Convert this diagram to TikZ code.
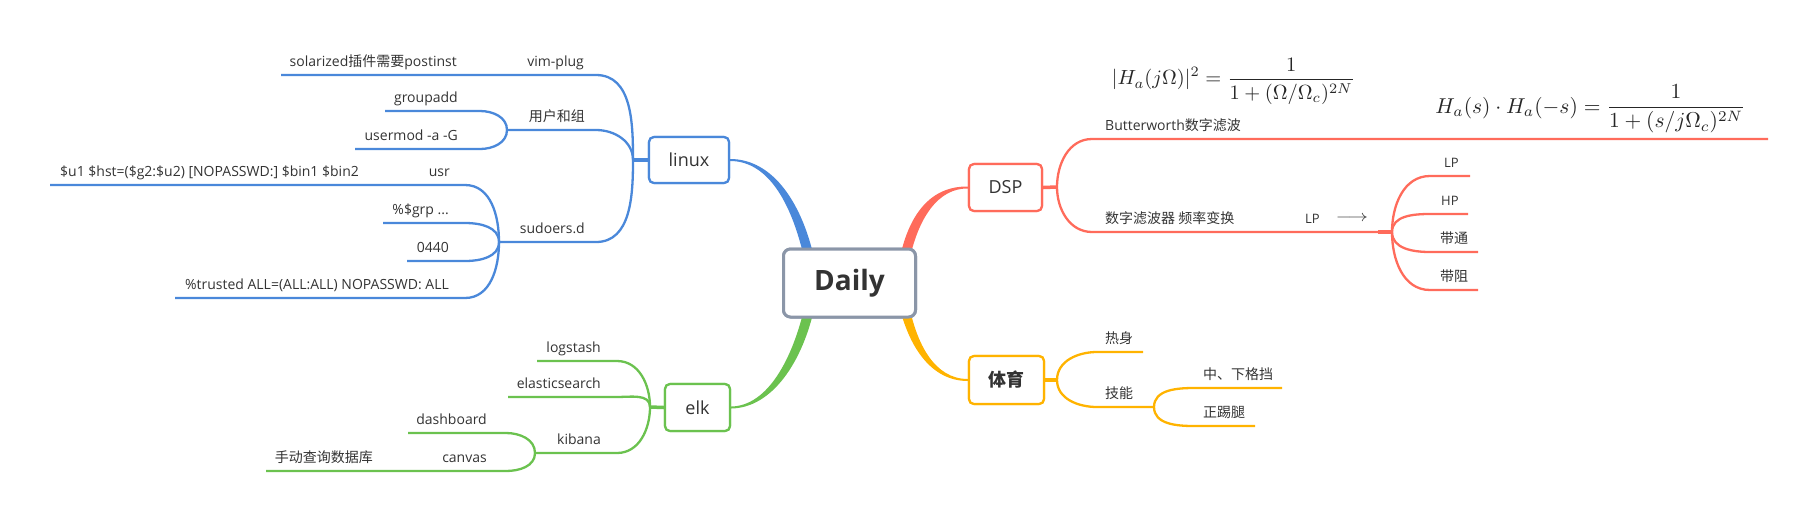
\documentclass[tikz,border=0pt]{standalone}
\usepackage[no-math]{fontspec}
\setmainfont{Open Sans}
\newfontfamily\cjk{Noto Sans CJK SC}
\usetikzlibrary{calc}
\definecolor{cblue}{RGB}{74,136,218}
\definecolor{cred}{RGB}{255,107,91}
\definecolor{cyel}{RGB}{255,179,0}
\definecolor{cgreen}{RGB}{107,194,79}
\definecolor{cgray}{RGB}{139,150,168}
\definecolor{textc}{RGB}{51,51,51}
\newcommand\zh[1]{{\cjk #1}}
\tikzset{
  txt/.style={font=\fontsize{14}{16}\selectfont, text=textc, inner sep=0pt},
  lbl/.style={txt, anchor=base east},
  rbl/.style={txt, anchor=base west},
  topic/.style={draw, fill=white, rounded corners=5pt, line width=2.2pt, inner sep=0pt,
    font=\fontsize{18}{20}\selectfont, text=textc},
  sub/.style={line width=2.3pt},
  stub/.style={line width=3.5pt},
  mathf/.style={inner sep=0pt, text=black!85},
}
\begin{document}
\begin{tikzpicture}[x=1pt,y=-1pt]
\useasboundingbox (0,0) rectangle (1818,523);

% ---------- topic boxes (positions) ----------
\path node[topic, draw=cgray, line width=3pt, rounded corners=7pt, minimum width=132pt, minimum height=68pt,
   font=\fontsize{28}{30}\selectfont\bfseries] (daily) at (849.5,283) {Daily};
\path node[topic, draw=cblue, minimum width=80pt, minimum height=46pt] (linux) at (689,160) {linux};
\path node[topic, draw=cgreen, minimum width=65pt, minimum height=47pt] (elk) at (697.5,407.5) {elk};
\path node[topic, draw=cred, minimum width=73pt, minimum height=47pt] (dsp) at (1005.5,187.5) {DSP};
\path node[topic, draw=cyel, minimum width=75pt, minimum height=48pt] (pe) at (1006.5,380) {\cjk\bfseries 体育};

% ---------- tapered main branches ----------
\fill[cblue] ($(linux.east)+(0,-1)$) .. controls (774,159) and (803,205) .. (815,262)
  -- (805,262) .. controls (793,207) and (770,161) .. ($(linux.east)+(0,1)$) -- cycle;
\fill[cred] ($(dsp.west)+(0,-1)$) .. controls (930,186) and (908,215) .. (899,262)
  -- (909,262) .. controls (918,218) and (938,188) .. ($(dsp.west)+(0,1)$) -- cycle;
\fill[cyel] ($(pe.west)+(0,-1)$) .. controls (935,379) and (917,345) .. (909,305)
  -- (899,305) .. controls (909,347) and (931,381) .. ($(pe.west)+(0,1)$) -- cycle;
\fill[cgreen] ($(elk.east)+(0,-1)$) .. controls (768,406) and (793,358) .. (805,305)
  -- (815,305) .. controls (803,362) and (772,408) .. ($(elk.east)+(0,1)$) -- cycle;

% redraw boxes on top
\path node[topic, draw=cgray, line width=3pt, rounded corners=7pt, minimum width=132pt, minimum height=68pt,
   font=\fontsize{28}{30}\selectfont\bfseries] (daily2) at (daily) {Daily};
\path node[topic, draw=cblue, minimum width=80pt, minimum height=46pt] (linux2) at (linux) {linux};
\path node[topic, draw=cgreen, minimum width=65pt, minimum height=47pt] (elk2) at (elk) {elk};
\path node[topic, draw=cred, minimum width=73pt, minimum height=47pt] (dsp2) at (dsp) {DSP};
\path node[topic, draw=cyel, minimum width=75pt, minimum height=48pt] (pe2) at (pe) {\cjk\bfseries 体育};

% ---------- linux subtree ----------
\coordinate (jl) at (633,160);
\coordinate (vimE) at (596,75);   \coordinate (vimW) at (281,75);
\coordinate (ugE) at (596,130);   \coordinate (ju) at (507,130);
\coordinate (suE) at (596,242);   \coordinate (js) at (499,242);
\coordinate (gaE) at (480,111);   \coordinate (gaW) at (385,111);
\coordinate (umE) at (480,149);   \coordinate (umW) at (355,149);
\coordinate (usrE) at (465,185);  \coordinate (usrW) at (50,185);
\coordinate (grpE) at (465,223);  \coordinate (grpW) at (383,223);
\coordinate (oE) at (465,261);    \coordinate (oW) at (407,261);
\coordinate (trE) at (465,298);   \coordinate (trW) at (175,298);
\begin{scope}[draw=cblue]
\draw[stub] (linux.west) -- (jl);
\draw[sub] (jl) to[out=90,in=0] (vimE) -- (vimW);
\draw[sub] (jl) to[out=90,in=0] (ugE) -- (ju);
\draw[sub] (jl) to[out=-90,in=0] (suE) -- (js);
\draw[sub] (ju) to[out=90,in=0] (gaE) -- (gaW);
\draw[sub] (ju) to[out=-90,in=0] (umE) -- (umW);
\draw[sub] (js) to[out=90,in=0] (usrE) -- (usrW);
\draw[sub] (js) to[out=90,in=0] (grpE) -- (grpW);
\draw[sub] (js) to[out=-90,in=0] (oE) -- (oW);
\draw[sub] (js) to[out=-90,in=0] (trE) -- (trW);
\end{scope}
\node[lbl] (tvim) at (584,66) {vim-plug};
\node[lbl] (tsol) at (457,66) {solarized\zh{插件需要}postinst};
\node[lbl] (tug) at (585,121) {\zh{用户和组}};
\node[lbl] (tga) at (458,102) {groupadd};
\node[lbl] (tum) at (458,140) {usermod -a -G};
\node[lbl] (tsu) at (585,233) {sudoers.d};
\node[lbl] (tusr) at (450,176) {usr};
\node[lbl] (tu1) at (359,176) {\$u1 \$hst=(\$g2:\$u2) [NOPASSWD:] \$bin1 \$bin2};
\node[lbl] (tgrp) at (449,214) {\%\$grp ...};
\node[lbl] (t0440) at (449,252) {0440};
\node[lbl] (ttr) at (449,289) {\%trusted ALL=(ALL:ALL) NOPASSWD: ALL};

% ---------- elk subtree ----------
\coordinate (je) at (650,407);
\coordinate (lsE) at (617,361);  \coordinate (lsW) at (537,361);
\coordinate (esE) at (617,397);  \coordinate (esW) at (508,397);
\coordinate (kbE) at (617,453);  \coordinate (jk) at (535,453);
\coordinate (dbE) at (506,433);  \coordinate (dbW) at (408,433);
\coordinate (cvE) at (506,471);  \coordinate (cvW) at (266,471);
\begin{scope}[draw=cgreen]
\draw[stub] (elk.west) -- (je);
\draw[sub] (je) to[out=90,in=0] (lsE) -- (lsW);
\draw[sub] (je) to[out=90,in=0] (esE) -- (esW);
\draw[sub] (je) to[out=-90,in=0] (kbE) -- (jk);
\draw[sub] (jk) to[out=90,in=0] (dbE) -- (dbW);
\draw[sub] (jk) to[out=-90,in=0] (cvE) -- (cvW);
\end{scope}
\node[lbl] (tls) at (601,352) {logstash};
\node[lbl] (tes) at (601,388) {elasticsearch};
\node[lbl] (tkb) at (601,444) {kibana};
\node[lbl] (tdb) at (487,424) {dashboard};
\node[lbl] (tcv) at (487,462) {canvas};
\node[lbl] (tdbq) at (373,462) {\zh{手动查询数据库}};

% ---------- DSP subtree ----------
\coordinate (jd) at (1057,187);
\coordinate (bwW) at (1092,139);  \coordinate (bwE) at (1768,139);
\coordinate (dfW) at (1092,232);  \coordinate (jf) at (1392,232);
\coordinate (jf0) at (1378,232);
\coordinate (lpW) at (1430,176);  \coordinate (lpE) at (1470,176);
\coordinate (hpW) at (1430,214);  \coordinate (hpE) at (1468,214);
\coordinate (btW) at (1430,252);  \coordinate (btE) at (1478,252);
\coordinate (bzW) at (1430,290);  \coordinate (bzE) at (1478,290);
\begin{scope}[draw=cred]
\draw[stub] (dsp.east) -- (jd);
\draw[sub] (jd) to[out=90,in=180] (bwW) -- (bwE);
\draw[sub] (jd) to[out=-90,in=180] (dfW) -- (jf);
\draw[line width=4pt] (jf0) -- (jf);
\draw[sub] (jf) to[out=90,in=180] (lpW) -- (lpE);
\draw[sub] (jf) to[out=90,in=180] (hpW) -- (hpE);
\draw[sub] (jf) to[out=-90,in=180] (btW) -- (btE);
\draw[sub] (jf) to[out=-90,in=180] (bzW) -- (bzE);
\end{scope}
\node[rbl] (tbw) at (1105,130) {Butterworth\zh{数字滤波}};
\node[mathf] (f1) at (1233.5,81) {\scalebox{2.05}{$\displaystyle |H_a(j\Omega)|^2=\frac{1}{1+(\Omega/\Omega_c)^{2N}}$}};
\node[mathf] (f2) at (1590.5,109) {\scalebox{2.15}{$\displaystyle H_a(s)\cdot H_a(-s)=\frac{1}{1+(s/j\Omega_c)^{2N}}$}};
\node[rbl] (tdf) at (1105,223) {\zh{数字滤波器 频率变换}};
\node[rbl, font=\fontsize{13}{15}\selectfont] (tlp0) at (1305,223) {LP};
\node[inner sep=0pt, text=textc] (tarr) at (1352,219) {\scalebox{2}[1.6]{$\longrightarrow$}};
\node[rbl, font=\fontsize{13}{15}\selectfont] (tlp) at (1444,167) {LP};
\node[rbl, font=\fontsize{13}{15}\selectfont] (thp) at (1441,205) {HP};
\node[rbl] (tbt) at (1440,243) {\zh{带通}};
\node[rbl] (tbz) at (1440,281) {\zh{带阻}};

% ---------- 体育 subtree ----------
\coordinate (jt) at (1057,380);
\coordinate (rsW) at (1097,352);  \coordinate (rsE) at (1143,352);
\coordinate (jnW) at (1097,407);  \coordinate (jj) at (1154,407);
\coordinate (gdW) at (1194,388);  \coordinate (gdE) at (1282,388);
\coordinate (ttW) at (1194,426);  \coordinate (ttE) at (1255,426);
\begin{scope}[draw=cyel]
\draw[stub] (pe.east) -- (jt);
\draw[sub] (jt) to[out=90,in=180] (rsW) -- (rsE);
\draw[sub] (jt) to[out=-90,in=180] (jnW) -- (jj);
\draw[sub] (jj) to[out=90,in=180] (gdW) -- (gdE);
\draw[sub] (jj) to[out=-90,in=180] (ttW) -- (ttE);
\end{scope}
\node[rbl] (trs) at (1105,343) {\zh{热身}};
\node[rbl] (tjn) at (1105,398) {\zh{技能}};
\node[rbl] (tgd) at (1203,379) {\zh{中、下格挡}};
\node[rbl] (ttt) at (1203,417) {\zh{正踢腿}};
\end{tikzpicture}
\end{document}
